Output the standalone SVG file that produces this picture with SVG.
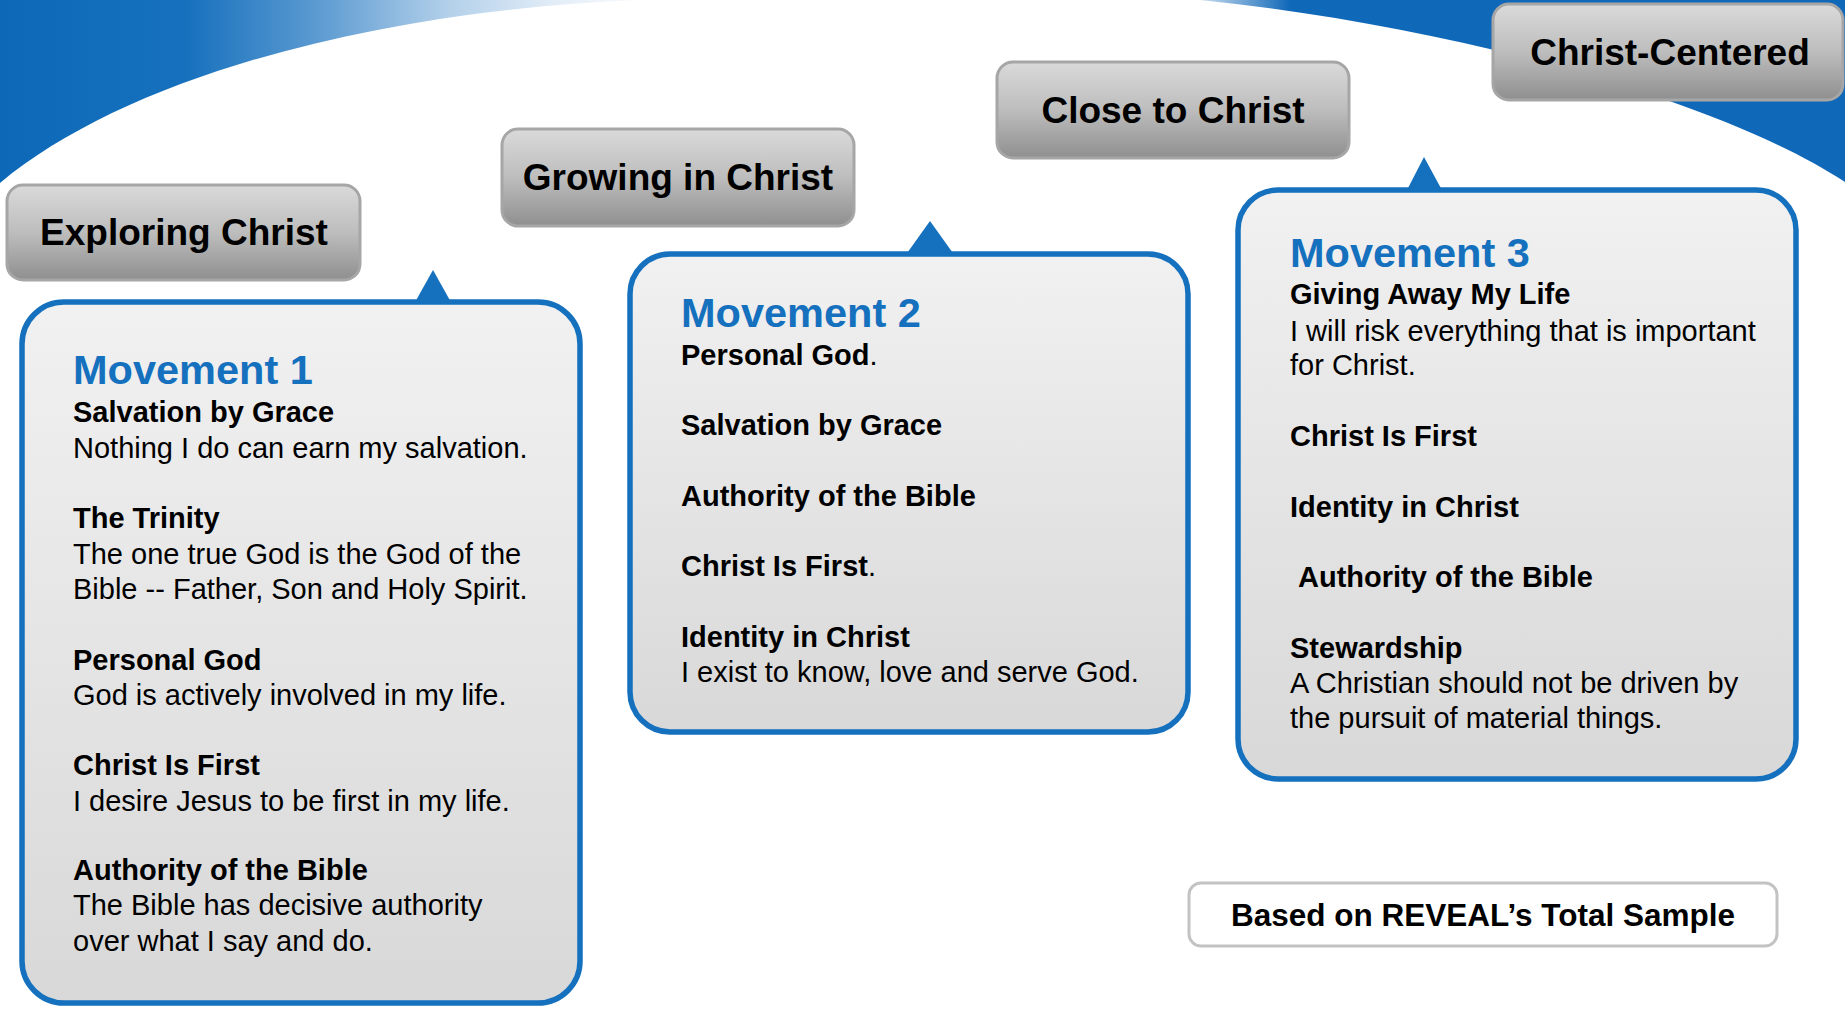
<svg xmlns="http://www.w3.org/2000/svg" width="1845" height="1009" viewBox="0 0 1845 1009">
<defs>
<linearGradient id="bgL" gradientUnits="userSpaceOnUse" x1="0" y1="0" x2="660" y2="0">
<stop offset="0" stop-color="#0d69b8"/>
<stop offset="0.28" stop-color="#1670bd"/>
<stop offset="0.48" stop-color="#5b9ad1"/>
<stop offset="0.68" stop-color="#b3d0ea"/>
<stop offset="0.84" stop-color="#e2edf7"/>
<stop offset="1" stop-color="#ffffff"/>
</linearGradient>
<linearGradient id="bgR" gradientUnits="userSpaceOnUse" x1="1185" y1="0" x2="1290" y2="0">
<stop offset="0" stop-color="#e8f1f9"/>
<stop offset="1" stop-color="#1068b8"/>
</linearGradient>
<linearGradient id="lbl" x1="0" y1="0" x2="0" y2="1">
<stop offset="0" stop-color="#dadada"/>
<stop offset="0.5" stop-color="#bdbdbd"/>
<stop offset="1" stop-color="#8f8f8f"/>
</linearGradient>
<linearGradient id="pnl" x1="0" y1="0" x2="0" y2="1">
<stop offset="0" stop-color="#f1f1f1"/>
<stop offset="1" stop-color="#d8d8d8"/>
</linearGradient>
</defs>
<style>
.lbl{fill:url(#lbl);stroke:#a6a6a6;stroke-width:3}
.lt{font-family:"Liberation Sans",Arial,sans-serif;font-weight:bold;font-size:37px;fill:#000;text-anchor:middle}
.pnl{fill:url(#pnl);stroke:#1570be;stroke-width:5.5}
.ptr{fill:#1570be}
.mv{font-family:"Liberation Sans",Arial,sans-serif;font-weight:bold;font-size:41.5px;fill:#1570be}
.b{font-family:"Liberation Sans",Arial,sans-serif;font-weight:bold;font-size:29px;fill:#000}
.r{font-family:"Liberation Sans",Arial,sans-serif;font-size:29px;fill:#000}
.rn{font-weight:normal}
.ft{font-family:"Liberation Sans",Arial,sans-serif;font-weight:bold;font-size:31.5px;fill:#000;text-anchor:middle}
</style>
<rect x="0" y="0" width="1845" height="1009" fill="#ffffff"/>
<g id="background">
<path d="M0,0 L640,0 C380,10 130,75 0,183 Z" fill="url(#bgL)"/>
<path d="M1200,0 L1845,0 L1845,182 C1720,100 1450,25 1200,0 Z" fill="url(#bgR)"/>
</g>
<g id="stage-exploring">
<rect class="lbl" x="7" y="185" width="353" height="95" rx="16"/>
<text class="lt" x="184" y="245">Exploring Christ</text>
</g>
<g id="stage-growing">
<rect class="lbl" x="502" y="129" width="352" height="97" rx="16"/>
<text class="lt" x="678" y="190">Growing in Christ</text>
</g>
<g id="stage-close">
<rect class="lbl" x="997" y="62" width="352" height="96" rx="16"/>
<text class="lt" x="1173" y="123">Close to Christ</text>
</g>
<g id="stage-centered">
<rect class="lbl" x="1493" y="4" width="350" height="96" rx="16"/>
<text class="lt" x="1670" y="65">Christ-Centered</text>
</g>
<g id="movement-1">
<rect class="pnl" x="22" y="302" width="558" height="701" rx="42"/>
<polygon class="ptr" points="433,270 452,304 414,304"/>
<text class="mv" x="73" y="384">Movement 1</text>
<text class="b" x="73" y="422">Salvation by Grace</text>
<text class="r" x="73" y="458">Nothing I do can earn my salvation.</text>
<text class="b" x="73" y="528">The Trinity</text>
<text class="r" x="73" y="564">The one true God is the God of the</text>
<text class="r" x="73" y="599">Bible -- Father, Son and Holy Spirit.</text>
<text class="b" x="73" y="670">Personal God</text>
<text class="r" x="73" y="705">God is actively involved in my life.</text>
<text class="b" x="73" y="775">Christ Is First</text>
<text class="r" x="73" y="811">I desire Jesus to be first in my life.</text>
<text class="b" x="73" y="880">Authority of the Bible</text>
<text class="r" x="73" y="915">The Bible has decisive authority</text>
<text class="r" x="73" y="951">over what I say and do.</text>
</g>
<g id="movement-2">
<rect class="pnl" x="630" y="254" width="558" height="478" rx="40"/>
<polygon class="ptr" points="930,221 955,256 905,256"/>
<text class="mv" x="681" y="327">Movement 2</text>
<text class="b" x="681" y="365">Personal God<tspan class="rn">.</tspan></text>
<text class="b" x="681" y="435">Salvation by Grace</text>
<text class="b" x="681" y="506">Authority of the Bible</text>
<text class="b" x="681" y="576">Christ Is First<tspan class="rn">.</tspan></text>
<text class="b" x="681" y="647">Identity in Christ</text>
<text class="r" x="681" y="682">I exist to know, love and serve God.</text>
</g>
<g id="movement-3">
<rect class="pnl" x="1238" y="190" width="558" height="589" rx="40"/>
<polygon class="ptr" points="1424,157 1443,192 1406,192"/>
<text class="mv" x="1290" y="267">Movement 3</text>
<text class="b" x="1290" y="304">Giving Away My Life</text>
<text class="r" x="1290" y="341">I will risk everything that is important</text>
<text class="r" x="1290" y="375">for Christ.</text>
<text class="b" x="1290" y="446">Christ Is First</text>
<text class="b" x="1290" y="517">Identity in Christ</text>
<text class="b" x="1298" y="587">Authority of the Bible</text>
<text class="b" x="1290" y="658">Stewardship</text>
<text class="r" x="1290" y="693">A Christian should not be driven by</text>
<text class="r" x="1290" y="728">the pursuit of material things.</text>
</g>
<g id="footer">
<rect x="1189" y="883" width="588" height="63" rx="12" fill="#ffffff" stroke="#c3c3c3" stroke-width="3"/>
<text class="ft" x="1483" y="926">Based on REVEAL’s Total Sample</text>
</g>
<g id="connectors"/>
</svg>
